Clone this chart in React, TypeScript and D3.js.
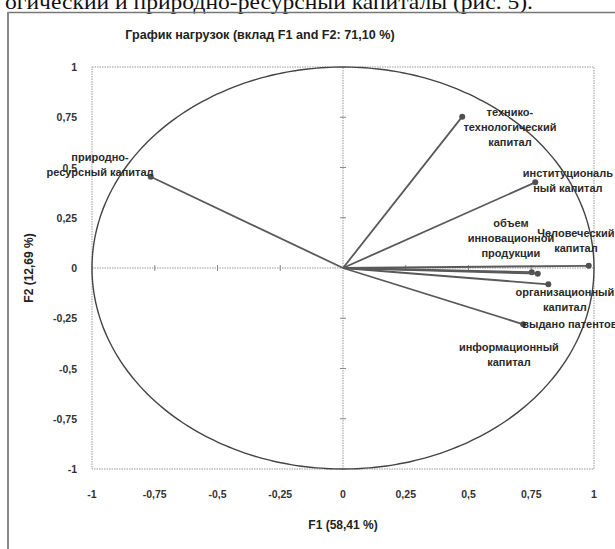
import React from 'react';
import * as d3 from 'd3';

// Variables (loadings on F1 / F2)
const variables = [
  'природно-ресурсный капитал',
  'технико-технологический капитал',
  'институциональный капитал',
  'человеческий капитал',
  'объем инновационной продукции',
  'информационный капитал',
  'организационный капитал',
  'выдано патентов',
];
const f1Values = [-0.766, 0.475, 0.766, 0.979, 0.752, 0.776, 0.818, 0.718];
const f2Values = [0.454, 0.753, 0.426, 0.011, -0.021, -0.028, -0.081, -0.28];

// Label text (as broken into lines in the source) and label anchors in data units
const labelLines = [
  ['природно-', 'ресурсный капитал'],
  ['технико-', 'технологический', 'капитал'],
  ['институциональ', 'ный капитал'],
  ['Человеческий', 'капитал'],
  ['объем', 'инновационной', 'продукции'],
  ['информационный', 'капитал'],
  ['организационный', 'капитал'],
  ['выдано патентов'],
];
const labelF1 = [-0.968, 0.665, 0.896, 0.928, 0.669, 0.661, 0.884, 0.904];
const labelF2 = [0.55, 0.776, 0.473, 0.174, 0.224, -0.393, -0.119, -0.279];

const ticks = [-1, -0.75, -0.5, -0.25, 0, 0.25, 0.5, 0.75, 1];
const tickText = ['-1', '-0,75', '-0,5', '-0,25', '0', '0,25', '0,5', '0,75', '1'];

const title = 'График нагрузок (вклад F1 and F2: 71,10 %)';
const xTitle = 'F1 (58,41 %)';
const yTitle = 'F2 (12,69 %)';
const pageText = 'огический и природно-ресурсный капиталы (рис. 5).';

const W = 615;
const H = 549;
const plot = { left: 92, right: 594, top: 67, bottom: 469 };

export default function App() {
  const x = d3.scaleLinear().domain([-1, 1]).range([plot.left, plot.right]);
  const y = d3.scaleLinear().domain([-1, 1]).range([plot.bottom, plot.top]);

  const circlePts: [number, number][] = d3.range(0, 361, 2).map((a) => {
    const r = (a * Math.PI) / 180;
    return [Math.cos(r), Math.sin(r)];
  });
  const circlePath = d3
    .line<[number, number]>()
    .x((d) => x(d[0]))
    .y((d) => y(d[1]))
    .curve(d3.curveCardinalClosed)(circlePts) as string;

  const font = "'Liberation Sans', Arial, sans-serif";
  const lh = 15;

  return (
    <svg
      width={W}
      height={H}
      style={{ position: 'absolute', left: 0, top: 0, background: '#fff' }}
      fontFamily={font}
    >
      <rect x={0} y={0} width={W} height={H} fill="#fff" />
      {/* page text above the figure */}
      <text
        x={5}
        y={8.5}
        fontFamily="'Liberation Serif', 'Times New Roman', serif"
        fontSize={22}
        fill="#111"
        textLength={528}
        lengthAdjust="spacingAndGlyphs"
      >
        {pageText}
      </text>
      {/* frame */}
      <line x1={8} x2={W} y1={12.5} y2={12.5} stroke="#777" strokeWidth={1.5} />
      <line x1={8} x2={8} y1={12} y2={H} stroke="#888" strokeWidth={2} />

      <text x={260} y={39} textAnchor="middle" fontSize={12.6} fontWeight="bold" fill="#222">
        {title}
      </text>

      {/* plot border */}
      <rect
        x={plot.left}
        y={plot.top}
        width={plot.right - plot.left}
        height={plot.bottom - plot.top}
        fill="none"
        stroke="#999"
        strokeWidth={1}
        strokeDasharray="1.5,1"
      />
      {/* zero axes */}
      <line x1={x(-1)} x2={x(1)} y1={y(0)} y2={y(0)} stroke="#999" strokeDasharray="1.5,1" />
      <line x1={x(0)} x2={x(0)} y1={y(-1)} y2={y(1)} stroke="#999" strokeDasharray="1.5,1" />
      {ticks
        .filter((t) => t !== 0 && Math.abs(t) !== 1)
        .map((t) => (
          <g key={'tk' + t}>
            <line x1={x(t)} x2={x(t)} y1={y(0) - 3} y2={y(0) + 3} stroke="#888" />
            <line x1={x(0) - 3} x2={x(0) + 3} y1={y(t)} y2={y(t)} stroke="#888" />
          </g>
        ))}

      {/* tick labels */}
      {ticks.map((t, i) => (
        <text
          key={'xl' + t}
          x={x(t)}
          y={494}
          textAnchor="middle"
          dominantBaseline="central"
          fontSize={10.5}
          fontWeight="bold"
          fill="#333"
        >
          {tickText[i]}
        </text>
      ))}
      {ticks.map((t, i) => (
        <text
          key={'yl' + t}
          x={77}
          y={y(t)}
          textAnchor="end"
          dominantBaseline="central"
          fontSize={10.5}
          fontWeight="bold"
          fill="#333"
        >
          {tickText[i]}
        </text>
      ))}

      {/* axis titles */}
      <text x={343} y={525} textAnchor="middle" dominantBaseline="central" fontSize={12} fontWeight="bold" fill="#222">
        {xTitle}
      </text>
      <text
        transform={`translate(29,${y(0)}) rotate(-90)`}
        textAnchor="middle"
        dominantBaseline="central"
        fontSize={12}
        fontWeight="bold"
        fill="#222"
      >
        {yTitle}
      </text>

      {/* correlation circle */}
      <path d={circlePath} fill="none" stroke="#444" strokeWidth={1.4} />

      {/* vectors */}
      {variables.map((v, i) => (
        <g key={v}>
          <line x1={x(0)} y1={y(0)} x2={x(f1Values[i])} y2={y(f2Values[i])} stroke="#595959" strokeWidth={1.8} />
          <circle cx={x(f1Values[i])} cy={y(f2Values[i])} r={3} fill="#505050" />
        </g>
      ))}

      {/* labels */}
      {variables.map((v, i) => (
        <text
          key={'lab' + v}
          x={x(labelF1[i])}
          y={y(labelF2[i])}
          textAnchor="middle"
          fontSize={11}
          fontWeight="bold"
          fill="#2a2a2a"
        >
          {labelLines[i].map((ln, j) => (
            <tspan key={j} x={x(labelF1[i])} y={y(labelF2[i]) + j * lh} dominantBaseline="central">
              {ln}
            </tspan>
          ))}
        </text>
      ))}
    </svg>
  );
}
